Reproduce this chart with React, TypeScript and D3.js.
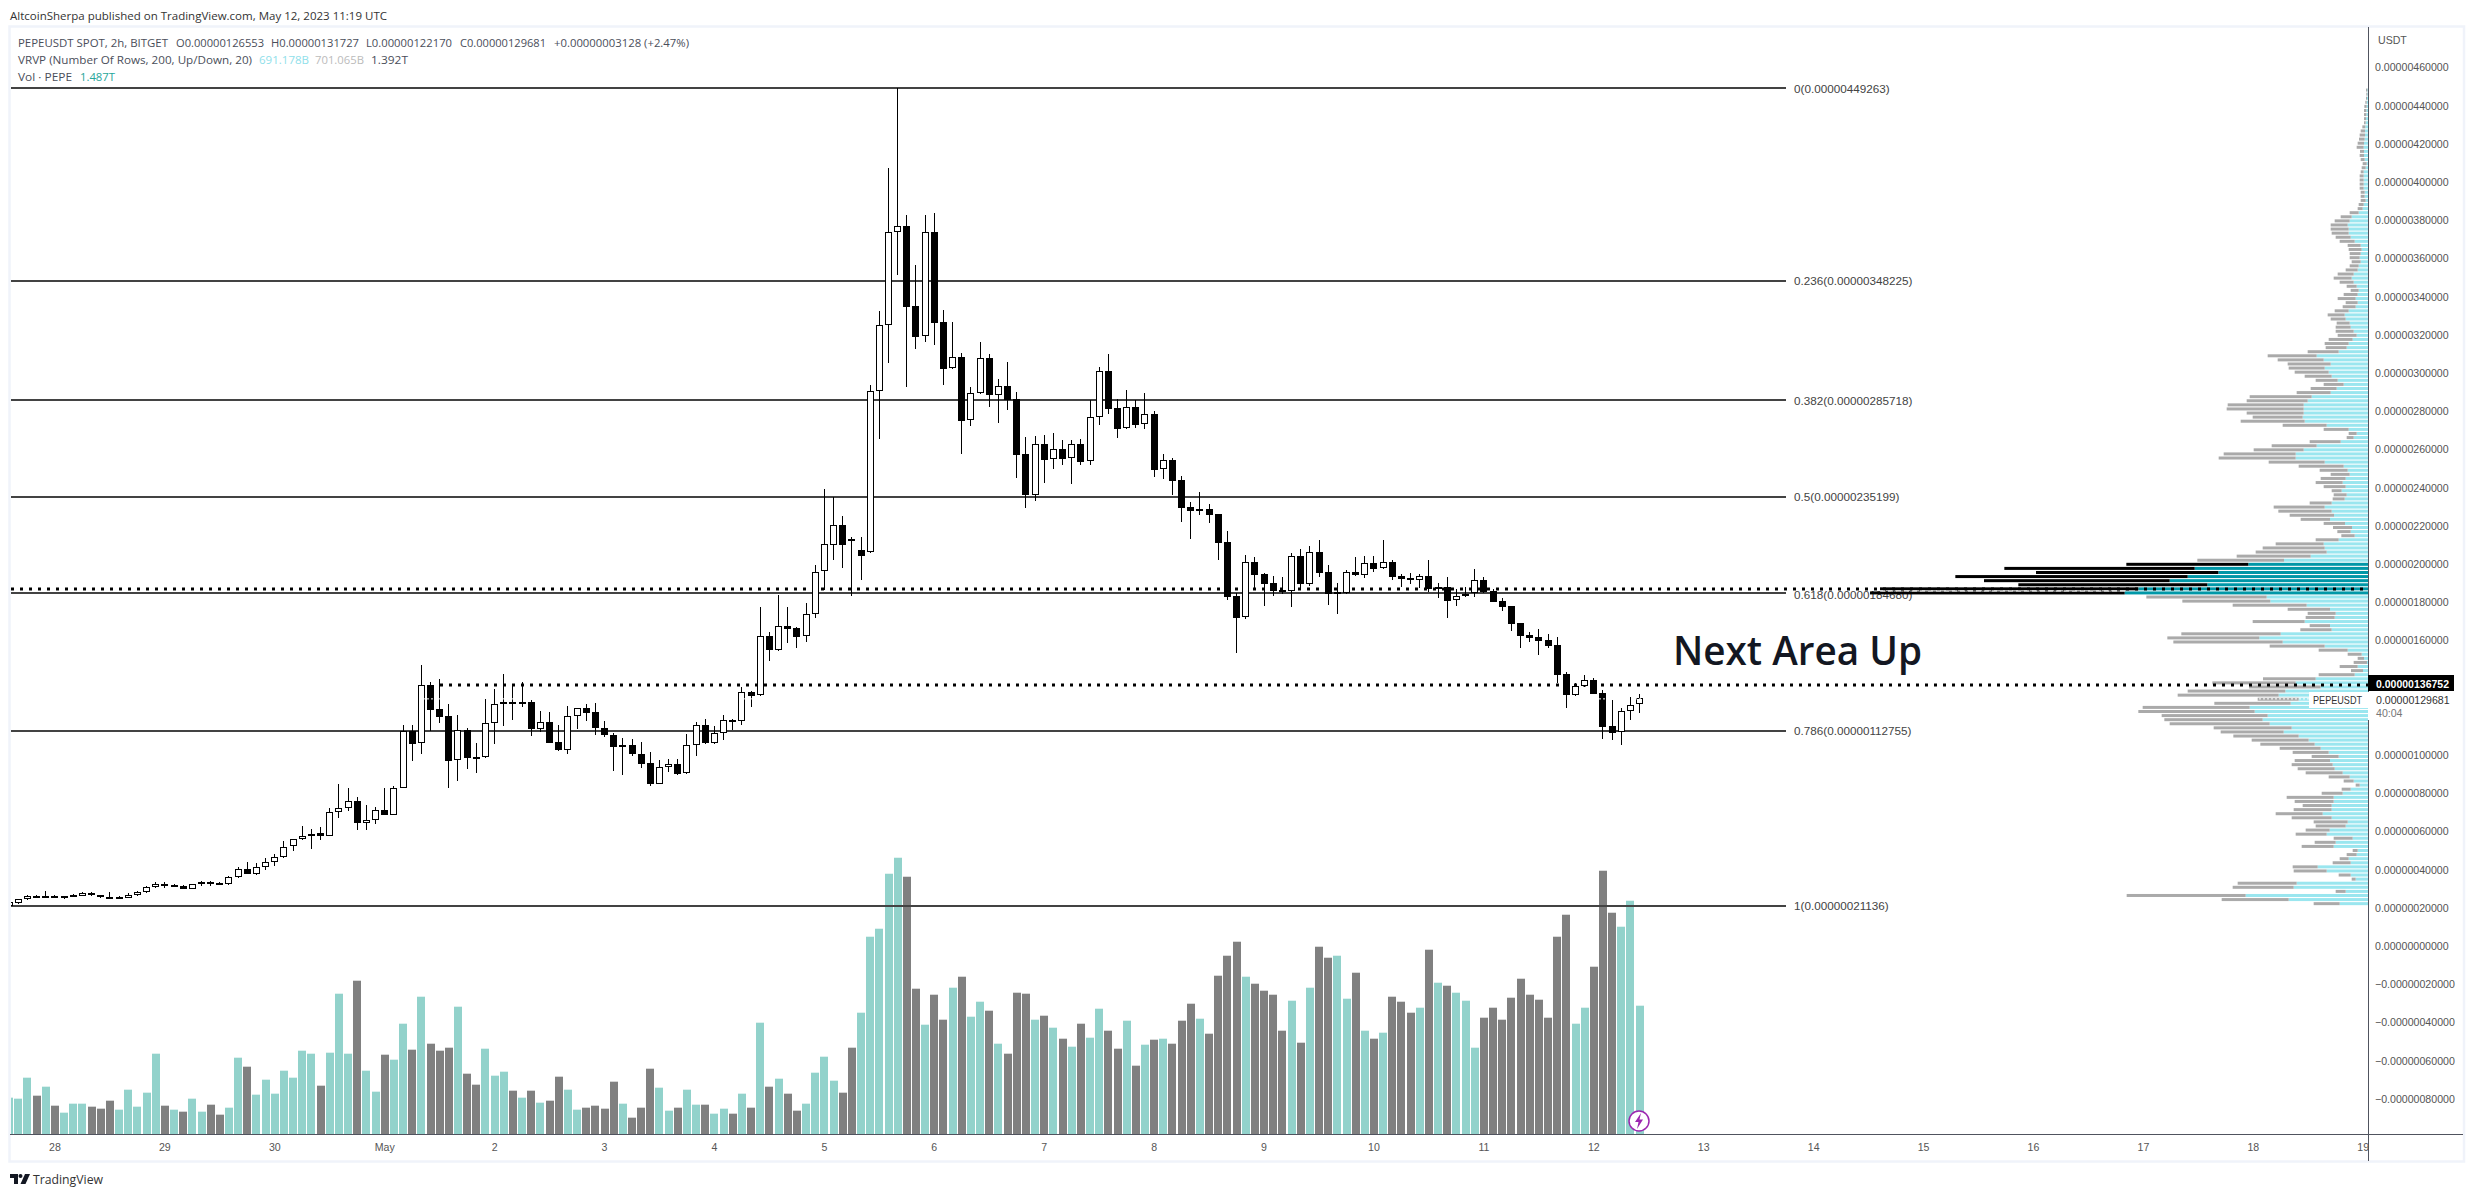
import React from "react";
import * as d3 from "d3";

// Prices are in units of 1e-8 USDT. First candle is partly cut off by the left frame.
const candleOpen = [
21.1,22.7,24.4,25.8,26.2,26.2,26.0,26.5,26.3,27.6,
26.5,25.6,25.6,25.3,26.5,28.1,30.9,32.4,31.9,31.7,
30.0,32.3,33.8,32.8,32.3,36.0,40.1,37.9,41.2,43.8,
46.4,52.2,55.8,57.4,59.0,57.7,70.0,72.1,76.2,64.6,
65.8,71.5,68.7,83.0,112.5,106.1,136.6,123.9,120.2,97.2,
112.9,98.8,98.8,116.6,127.0,128.0,128.0,128.0,113.9,117.1,
106.6,102.9,120.7,124.4,122.3,114.4,110.3,104.5,105.5,100.8,
95.6,85.1,94.0,95.1,90.4,105.5,115.5,106.4,111.3,118.6,
117.6,132.8,131.2,162.6,155.1,167.8,166.3,162.1,174.1,196.3,
209.9,220.3,213.3,207.3,206.3,290.4,325.0,373.7,377.0,334.9,
319.2,373.7,326.6,302.5,308.2,275.3,289.4,307.7,288.7,293.1,
286.3,257.5,236.4,262.7,254.8,260.1,255.4,262.7,253.8,276.8,
300.9,281.5,271.1,282.1,273.2,278.4,249.6,254.3,243.9,229.7,
228.6,228.6,226.0,211.4,183.1,172.1,200.9,194.6,189.9,186.2,
185.7,204.0,189.7,206.1,195.7,184.1,185.0,195.7,194.4,200.4,
197.8,200.9,193.6,192.5,191.8,193.6,187.8,187.8,181.0,183.1,
184.7,191.5,185.7,180.5,177.9,169.0,162.9,161.6,160.1,157.4,
142.3,131.6,136.0,139.1,132.3,115.0,111.9,122.9,126.553];

const candleClose = [
22.9,24.4,26.2,26.0,25.8,25.3,25.3,25.8,27.6,26.5,
25.5,25.5,25.5,26.5,28.1,31.0,32.3,31.2,31.2,30.0,
32.3,33.8,32.6,32.3,36.0,40.1,37.9,41.2,43.8,46.4,
52.0,55.8,57.4,58.8,57.7,70.0,72.1,76.2,64.6,65.8,
71.5,68.7,83.0,112.5,105.9,136.5,123.7,120.1,97.0,112.9,
98.6,98.6,116.6,127.0,128.0,127.5,127.5,113.7,117.1,106.4,
102.8,120.7,124.4,122.1,114.3,110.3,104.3,105.5,100.7,95.4,
85.0,94.0,95.1,90.2,105.5,115.5,106.2,111.3,118.6,117.4,
132.8,131.0,162.6,155.1,167.8,166.1,161.9,174.1,195.8,210.5,
220.3,209.9,212.0,204.2,290.4,325.0,373.7,376.8,334.8,319.1,
373.7,326.4,302.3,308.2,275.1,289.4,307.7,288.7,293.1,285.9,
257.3,236.4,262.7,254.7,260.1,255.2,262.7,253.6,276.8,300.9,
281.4,270.9,282.1,273.0,278.4,249.4,254.3,243.7,229.5,227.9,
227.9,225.9,211.2,182.9,171.9,200.9,194.4,189.7,186.1,185.5,
204.0,189.7,206.1,195.5,184.1,185.2,195.7,194.3,200.4,197.6,
200.9,193.4,192.3,191.8,193.6,187.1,187.1,180.8,183.1,184.5,
191.5,185.5,180.3,177.7,168.8,162.5,161.5,159.9,157.3,142.1,
131.6,136.0,139.1,132.1,114.9,111.7,122.9,126.0,129.681];

const candleHigh = [
22.9,24.8,26.5,26.9,28.6,26.9,26.3,27.2,28.3,28.3,
26.7,28.3,26.0,27.6,28.8,31.4,33.8,33.3,32.4,32.1,
32.4,34.0,34.0,33.5,36.6,41.4,43.8,43.3,45.9,48.0,
54.8,56.2,62.8,61.1,62.1,72.1,84.8,82.7,77.8,73.6,
72.6,83.0,83.6,115.5,115.5,147.4,138.5,139.6,126.5,120.9,
114.0,106.1,129.6,134.4,142.7,136.1,138.5,128.8,123.3,122.8,
115.5,125.9,124.4,126.5,127.5,118.1,111.3,108.7,108.2,106.6,
101.4,97.2,97.7,98.2,110.8,117.1,119.1,115.0,121.2,118.8,
135.4,133.3,177.3,164.2,183.8,177.3,166.8,179.4,199.5,239.3,
234.9,225.0,214.0,214.4,293.6,332.3,407.2,449.26,382.6,356.4,
382.6,383.6,332.9,326.6,310.3,292.5,316.1,309.8,296.7,305.6,
289.9,266.4,266.9,267.4,268.5,264.8,264.8,265.3,285.7,303.0,
309.8,286.3,291.0,285.7,289.4,280.0,257.5,255.4,245.9,232.3,
237.5,231.4,226.2,217.1,184.7,204.6,203.5,195.1,193.6,193.0,
205.6,207.7,209.3,212.4,199.3,189.9,196.7,203.5,204.0,204.0,
212.4,201.9,194.6,195.1,194.6,201.9,189.9,193.0,186.8,187.8,
197.2,193.0,186.8,182.1,178.0,169.3,164.3,165.8,163.2,161.6,
143.3,137.6,141.7,140.2,133.9,128.8,124.5,130.2,131.727];

const candleLow = [
21.1,22.2,24.2,25.3,25.6,25.1,24.8,25.5,26.2,26.2,
25.1,25.3,25.3,25.1,26.3,27.9,30.4,30.4,30.9,29.8,
29.8,31.4,31.6,32.1,32.1,35.8,37.7,37.3,39.8,41.9,
46.2,49.7,55.7,50.9,55.5,57.6,67.0,70.8,60.7,60.7,
63.9,68.6,68.6,82.9,97.0,100.5,112.7,116.7,82.7,86.5,
92.6,90.6,98.6,105.9,115.1,118.3,125.3,109.9,112.0,106.2,
102.2,100.5,113.6,117.8,110.4,109.6,91.6,89.5,99.6,93.2,
83.9,85.0,91.0,89.7,90.2,99.4,105.9,105.9,107.8,112.9,
115.7,125.1,131.0,149.2,154.4,158.6,156.0,159.1,171.7,186.4,
202.1,197.9,183.2,191.6,205.8,265.7,305.5,351.5,292.9,312.8,
316.4,314.9,293.9,302.3,257.8,272.5,288.9,282.4,274.0,280.8,
245.2,229.5,233.2,242.6,250.0,252.1,242.1,252.1,252.1,273.0,
278.8,266.2,270.9,271.4,270.9,245.8,244.7,236.4,222.2,213.3,
225.9,221.7,202.3,181.4,153.6,171.4,186.8,178.2,183.4,184.3,
177.7,187.3,188.7,193.4,178.7,174.0,184.1,193.7,192.9,195.8,
197.6,191.7,188.0,189.6,187.5,185.5,182.2,171.9,178.0,182.9,
182.9,185.0,180.1,175.6,165.1,156.1,159.2,152.4,156.1,137.7,
124.6,130.9,135.8,132.0,108.4,107.9,105.3,118.4,122.17];

// Relative volume; the last bar (385) is the 1.487T of the legend.
const volumes = [
109,106,169,115,142,85,64,91,91,82,
76,100,73,133,82,124,241,85,73,67,
106,67,88,58,79,229,202,118,163,121,
190,169,250,241,145,244,421,241,460,190,
127,238,223,331,253,412,271,250,259,382,
181,148,256,175,187,130,109,130,94,100,
172,133,73,79,85,76,157,91,49,79,
196,139,70,79,133,88,88,61,76,61,
121,79,334,142,166,121,70,91,184,232,
160,124,259,364,592,616,781,829,772,436,
328,418,343,439,472,352,397,370,271,241,
424,421,343,355,319,286,262,331,289,376,
310,256,340,205,268,283,286,271,340,391,
346,301,475,535,577,472,451,430,418,310,
400,274,439,562,529,535,406,484,310,286,
304,412,397,364,379,553,454,445,424,400,
259,349,379,343,409,466,418,403,349,592,
658,331,379,502,790,664,622,700,385];

const volumeSide =
  "T" +
  "TTGTGTTTGG" + "GTTTTTGTGT" + "TGGTTGTTTT" + "TTTGTTTGTT" + "GTTGTGGGTG" +
  "GTTTGTGTGG" + "TTGGGGTGGG" + "TTGTTGTTGT" + "GTGTGGTTTT" + "GGTTTTTGGT" +
  "GGTGTTGTGG" + "GTGTGTGTTG" + "GTGTGTGGGT" + "GGGGTGGGGT" + "GTGGTTGTGT" +
  "GGGTGTGTTT" + "GGGGGGGGGG" + "TTGGGTTT";

// Visible-range volume profile, 200 rows from the high to the low, relative widths.
const vrvpUp = [
2,2,3,4,4,5,5,6,7,8,9,9,10,12,13,12,12,10,4,7,
13,13,13,13,13,10,10,7,13,16,28,49,55,61,58,58,52,40,22,19,
22,25,22,28,31,43,49,43,34,28,31,37,31,37,58,70,67,55,52,43,
34,46,58,64,88,154,133,112,130,118,109,91,73,94,112,169,181,193,193,193,
196,190,124,58,34,43,82,154,193,217,217,130,73,61,55,67,76,67,79,64,
70,109,130,109,102,114,69,48,52,40,88,133,130,124,172,252,359,520,449,541,
595,482,689,730,304,293,184,114,97,100,190,114,109,262,326,256,130,61,19,12,
3,31,15,40,157,217,142,248,268,208,232,355,340,301,316,295,229,253,208,178,
160,142,118,88,114,106,100,76,55,43,25,52,76,103,103,109,109,136,109,61,
67,115,124,46,97,103,31,34,58,52,151,124,52,37,214,223,67,367,238,85];

const vrvpDown = [
4,3,3,4,7,7,7,6,5,9,13,16,17,19,21,12,13,12,12,12,
9,12,12,12,12,12,12,15,15,15,27,33,45,51,54,51,45,45,39,39,
33,30,27,27,36,48,54,42,30,24,42,54,36,39,42,51,45,39,45,54,
57,72,72,63,93,147,138,129,108,102,81,66,60,78,102,186,183,228,231,171,
150,192,132,75,24,21,93,135,150,216,231,168,135,84,57,75,81,66,30,39,
36,66,153,160,133,88,64,57,40,40,69,144,186,213,222,260,366,571,547,697,
557,567,775,764,361,264,222,127,84,87,156,61,94,298,276,328,165,87,42,19,
40,54,36,108,158,250,215,293,303,123,229,321,349,318,295,300,234,189,196,171,
163,123,108,81,106,123,111,111,63,30,12,27,63,141,117,87,114,141,120,102,
90,72,93,57,63,96,15,30,27,54,75,99,36,12,177,183,30,357,201,78];

const fibLevels = ["0", "0.236", "0.382", "0.5", "0.618", "0.786", "1"];
const fibPrices = [449.263, 348.225, 285.718, 235.199, 184.68, 112.755, 21.136];
const dottedUpperPrice = 186.7;
const dottedLowerPrice = 136.752;
const lastPrice = 129.681;
const yTicks = [460,440,420,400,380,360,340,320,300,280,260,240,220,200,180,160,140,120,100,80,60,40,20,0,-20,-40,-60,-80];
const hiddenTicks = [140, 120];
const dayLabels = ["28","29","30","May","2","3","4","5","6","7","8","9","10","11","12","13","14","15","16","17","18","19"];

const W = 2474, H = 1197;
const L = 11, R = 2368, BASE = 1134;
const SANS = "'Liberation Sans', Arial, sans-serif";
const TV = "'Open Sans', sans-serif";

const y = d3.scaleLinear().domain([449.263, 21.136]).range([88, 905.7]);
// index 0 is the partial candle at the left edge
const x = d3.scaleLinear().domain([0, 1]).range([9.14, 18.3]);
const vol = d3.scaleLinear().domain([0, 385]).range([0, 128.3]);
const prof = d3.scaleLinear().domain([0, 1599]).range([0, 533]);
const rowY = d3.scaleLinear().domain([0, 200]).range([y(449.263), y(21.136)]);

const priceText = (v: number) => (v < 0 ? "\u2212" : "") + (Math.abs(v) * 1e-8).toFixed(11);

function T(p: any) {
  const { x: tx, y: ty, w, size = 11.5, fill = "#4a4e5a", font = TV, weight, anchor, children } = p;
  return (
    <text x={tx} y={ty} fontSize={size} fill={fill} fontFamily={font} fontWeight={weight} textAnchor={anchor}
      dominantBaseline="central" textLength={w} lengthAdjust={w ? "spacingAndGlyphs" : undefined}>
      {children}
    </text>
  );
}

export default function App() {
  const rows = vrvpUp.map((u, i) => {
    const d = vrvpDown[i];
    const cy = rowY(i + 0.5);
    const dark = i >= 116 && i <= 123;
    const wu = prof(u), wd = prof(d);
    return (
      <g key={i}>
        <rect x={R - wu} y={cy - 1.5} width={wu} height={3} fill={dark ? "#0097a7" : "#9ae6ef"} />
        <rect x={R - wu - wd} y={cy - 1.5} width={wd} height={3} fill={dark ? "#000" : "#aaaaaa"} />
      </g>
    );
  });

  const candles = candleOpen.map((o, i) => {
    const c = candleClose[i];
    const xc = Math.floor(x(i));
    const top = Math.round(y(Math.max(o, c)));
    const bot = Math.round(y(Math.min(o, c)));
    const hi = Math.round(y(candleHigh[i]));
    const lo = Math.round(y(candleLow[i]));
    const h = Math.max(bot - top, 2);
    const up = c >= o;
    return (
      <g key={i}>
        <rect x={xc} y={hi} width={1} height={Math.max(lo - hi, 1)} fill="#000" />
        <rect x={xc - 3} y={top} width={7} height={h} fill="#000" />
        {up && h > 2 ? <rect x={xc - 2} y={top + 1} width={5} height={h - 2} fill="#fff" /> : null}
      </g>
    );
  });

  const bars = volumes.map((v, i) => {
    const h = vol(v);
    return (
      <rect key={i} x={Math.round(x(i) - 4)} y={BASE - h} width={8} height={h}
        fill={volumeSide[i] === "T" ? "#92d2cb" : "#808080"} />
    );
  });

  return (
    <svg width={W} height={H} viewBox={`0 0 ${W} ${H}`} style={{ position: "absolute", left: 0, top: 0, display: "block", background: "#fff" }}>
      <defs>
        <clipPath id="plot"><rect x={L} y={28} width={R - L} height={BASE - 28} /></clipPath>
      </defs>

      {/* frame */}
      <rect x={9.5} y={26.5} width={2454.5} height={1135} fill="none" stroke="#f0f3fa" strokeWidth={2.5} />

      {/* fib labels sit under the profile rows */}
      {fibPrices.map((p, i) => (
        <T key={i} x={1794} y={y(p) + (i === 4 ? 1 : 0)} font={SANS} size={11.7} fill="#434343">{`${fibLevels[i]}(${priceText(p)})`}</T>
      ))}

      <g clipPath="url(#plot)">
        {rows}
        {bars}
        {fibPrices.map((p, i) => (
          <line key={i} x1={L} x2={1786} y1={Math.round(y(p))} y2={Math.round(y(p))} stroke="#434343" strokeWidth={2} />
        ))}
        <line x1={11} x2={R} y1={Math.round(y(dottedUpperPrice))} y2={Math.round(y(dottedUpperPrice))} stroke="#000" strokeWidth={3} strokeDasharray="3 6" />
        <line x1={440} x2={R} y1={Math.round(y(dottedLowerPrice))} y2={Math.round(y(dottedLowerPrice))} stroke="#000" strokeWidth={3} strokeDasharray="3 6" />
        <line x1={1880} x2={2125} y1={591} y2={591} stroke="#fff" strokeWidth={1} strokeDasharray="5 3" />
        {candles}
        <line x1={L} x2={R} y1={y(lastPrice) + 0.5} y2={y(lastPrice) + 0.5} stroke="#fff" strokeWidth={1} strokeDasharray="2 2" />
      </g>

      <T x={1673} y={649} w={249} size={40} weight={600} fill="#131722">Next Area Up</T>

      {/* lightning marker */}
      <g>
        <circle cx={1639} cy={1121} r={10} fill="#fff" stroke="#9c27b0" strokeWidth={1.5} />
        <path d="M1641 1113 L1635 1122 L1638.5 1122 L1637 1129 L1643 1119.5 L1639.5 1119.5 Z" fill="#9c27b0" />
      </g>

      {/* axes */}
      <line x1={10} x2={2463} y1={BASE + 0.5} y2={BASE + 0.5} stroke="#50535e" strokeWidth={1} />
      <line x1={R + 0.5} x2={R + 0.5} y1={27} y2={1161} stroke="#50535e" strokeWidth={1} />
      {yTicks.filter((t) => !hiddenTicks.includes(t)).map((t) => (
        <T key={t} x={2375} y={y(t)} font={SANS} size={10.6} fill="#555">{priceText(t)}</T>
      ))}
      <T x={2378} y={40} font={SANS} size={10.6} fill="#555">USDT</T>
      {dayLabels.map((d, i) => (
        <T key={d} x={x(5 + i * 12)} y={1147} font={SANS} size={10.6} fill="#555" anchor="middle">{d}</T>
      ))}

      {/* price labels */}
      <rect x={2309} y={692} width={59} height={16} fill="#fff" />
      <T x={2313} y={700} w={49} font={SANS} size={10.6} fill="#333">PEPEUSDT</T>
      <rect x={2368} y={692} width={90} height={28} fill="#fff" />
      <T x={2376} y={700} font={SANS} size={10.6} fill="#333">0.00000129681</T>
      <T x={2376} y={713} font={SANS} size={10.6} fill="#777">40:04</T>
      <rect x={2368} y={675} width={86} height={16} fill="#000" />
      <T x={2376} y={684} font={SANS} size={10.6} fill="#fff" weight={700} w={73}>0.00000136752</T>

      {/* legend */}
      <T x={10} y={15} w={377} fill="#333" size={11.5}>AltcoinSherpa published on TradingView.com, May 12, 2023 11:19 UTC</T>
      <T x={18} y={42} w={150} size={11.5}>PEPEUSDT SPOT, 2h, BITGET</T>
      <T x={176} y={42} w={88} size={11.5}>O0.00000126553</T>
      <T x={271} y={42} w={88} size={11.5}>H0.00000131727</T>
      <T x={366} y={42} w={86} size={11.5}>L0.00000122170</T>
      <T x={460} y={42} w={86} size={11.5}>C0.00000129681</T>
      <T x={554} y={42} w={135} size={11.5}>+0.00000003128 (+2.47%)</T>
      <T x={18} y={59} w={234} size={11.5}>VRVP (Number Of Rows, 200, Up/Down, 20)</T>
      <T x={259} y={59} w={50} size={11.5} fill="#8fe0ea">691.178B</T>
      <T x={315} y={59} w={49} size={11.5} fill="#bbbbbb">701.065B</T>
      <T x={371} y={59} w={37} size={11.5}>1.392T</T>
      <T x={18} y={76} w={54} size={11.5}>Vol · PEPE</T>
      <T x={80} y={76} w={35} size={11.5} fill="#26a69a">1.487T</T>

      {/* logo */}
      <g fill="#131722">
        <path d="M10 1174 H18 V1184 H14 V1178 H10 Z" />
        <circle cx={20.5} cy={1176} r={2} />
        <path d="M25 1174 H30 L25.5 1184 H20.5 Z" />
      </g>
      <T x={33} y={1179} w={70} size={13} fill="#333">TradingView</T>
    </svg>
  );
}
